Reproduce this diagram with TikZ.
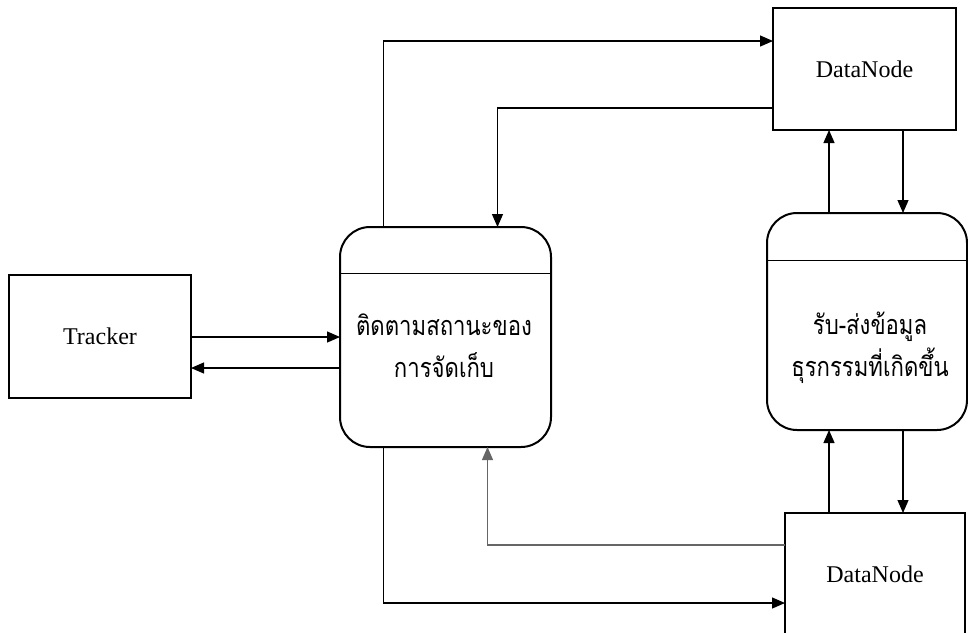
\documentclass[tikz,border=0pt]{standalone}
\usepackage{fontspec}
\setmainfont{Liberation Serif}
\newfontfamily\thaifont[Script=Thai, FakeStretch=0.82]{Loma}
\usetikzlibrary{arrows.meta}

\begin{document}
\begin{tikzpicture}[x=0.5pt, y=-0.5pt,
        box/.style={draw, line width=1pt, inner sep=0pt, outer sep=0pt, font=\fontsize{12}{14}\selectfont},
        procbox/.style={box, rounded corners=15pt},
        thaitext/.style={align=center, font=\thaifont\fontsize{13.5}{21}\selectfont},
        flow/.style={line width=0.6pt, -{Triangle[length=6.5pt, width=5.5pt]}}]
    \useasboundingbox (0,0) rectangle (968,632);
    \node[box, minimum width=91pt, minimum height=61.5pt] (tracker) at (100,336.5) {Tracker};
    \node[procbox, minimum width=105.5pt, minimum height=110pt] (track) at (445.5,337) {};
    \node[thaitext] (trackText) at (444,346) {ติดตามสถานะของ\\การจัดเก็บ};
    \node[box, minimum width=91.5pt, minimum height=61pt] (dnTop) at (864.5,69) {DataNode};
    \node[procbox, minimum width=100pt, minimum height=108.5pt] (xfer) at (867,321.5) {};
    \node[thaitext] (xferText) at (870,348) {รับ-ส่งข้อมูล\\ธุรกรรมที่เกิดขึ้น};
    \node[box, minimum width=90pt, minimum height=61pt] (dnBot) at (875,574) {DataNode};

    \draw[line width=0.5pt] ([yshift=-23pt]track.north -| track.west) -- ([yshift=-23pt]track.north -| track.east);
    \draw[line width=0.5pt] ([yshift=-23.5pt]xfer.north -| xfer.west) -- ([yshift=-23.5pt]xfer.north -| xfer.east);

    \draw[flow] (tracker.east |- track.west) -- (track.west);
    \draw[flow] ([yshift=-15.5pt]track.west) -- ([yshift=-15.5pt]track.west -| tracker.east);
    \draw[flow] ([xshift=-31pt]track.north) |- ([yshift=14pt]dnTop.west);
    \draw[flow] ([yshift=-19.5pt]dnTop.west) -| ([xshift=26pt]track.north);
    \draw[flow] ([xshift=-19pt]xfer.north) -- ([xshift=-19pt]xfer.north |- dnTop.south);
    \draw[flow] ([xshift=18pt]xfer.north |- dnTop.south) -- ([xshift=18pt]xfer.north);
    \draw[flow] ([xshift=-19pt]xfer.south |- dnBot.north) -- ([xshift=-19pt]xfer.south);
    \draw[flow] ([xshift=18pt]xfer.south) -- ([xshift=18pt]xfer.south |- dnBot.north);
    \draw[flow, black!60] ([yshift=14.5pt]dnBot.west) -| ([xshift=21pt]track.south);
    \draw[flow] ([xshift=-31pt]track.south) |- ([yshift=-14.5pt]dnBot.west);
\end{tikzpicture}
\end{document}
